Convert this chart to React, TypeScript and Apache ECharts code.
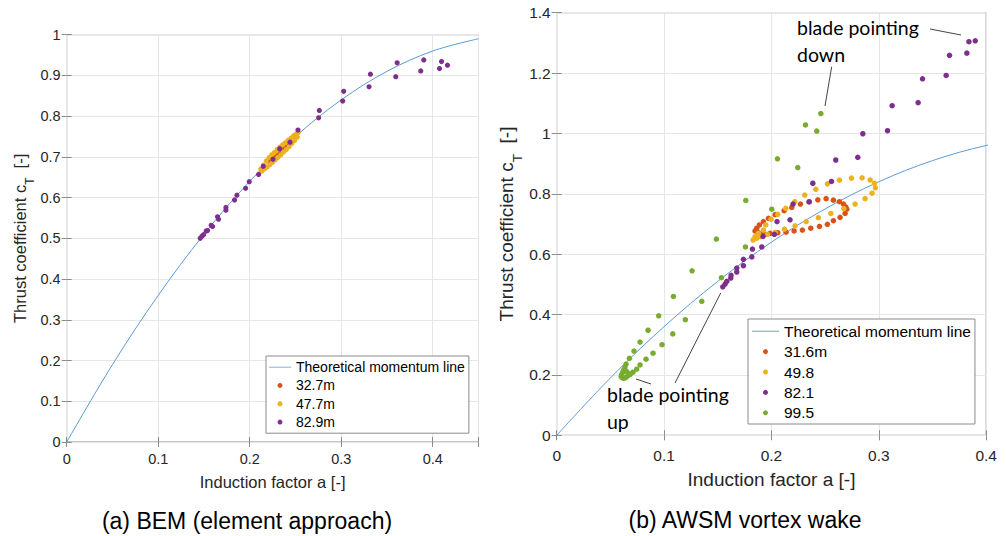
import React, { useEffect, useRef } from "react";
import * as echarts from "echarts";

// Theoretical momentum line
const momentumA = [0, 0.05, 0.1, 0.15, 0.2, 0.25, 0.3, 0.35, 0.4, 0.45];
const momentumCt = [0, 0.19, 0.36, 0.51, 0.64, 0.75, 0.84, 0.91, 0.96, 0.99];

// (a) BEM
const bem327A = [0.222, 0.226, 0.230, 0.234, 0.238, 0.242, 0.246, 0.248, 0.245, 0.241, 0.237, 0.233, 0.229, 0.225];
const bem327Ct = [0.690, 0.697, 0.704, 0.712, 0.722, 0.731, 0.740, 0.744, 0.735, 0.725, 0.716, 0.707, 0.699, 0.692];

const bem477A = [0.212, 0.215, 0.218, 0.221, 0.224, 0.227, 0.230, 0.233, 0.236, 0.239, 0.242, 0.245, 0.248, 0.251, 0.253,
  0.252, 0.249, 0.246, 0.243, 0.240, 0.237, 0.234, 0.231, 0.228, 0.225, 0.222, 0.219, 0.216, 0.213];
const bem477Ct = [0.670, 0.680, 0.690, 0.698, 0.705, 0.711, 0.718, 0.724, 0.730, 0.735, 0.741, 0.746, 0.752, 0.757, 0.760,
  0.748, 0.740, 0.733, 0.725, 0.718, 0.712, 0.705, 0.699, 0.693, 0.687, 0.681, 0.675, 0.670, 0.665];

const bem829A = [0.1459, 0.1477, 0.1495, 0.1524, 0.1539, 0.1579, 0.1594, 0.1648, 0.1659, 0.1740, 0.1740, 0.1834, 0.1860,
  0.1955, 0.1995, 0.2097, 0.2148, 0.2254, 0.2327, 0.2440, 0.2527, 0.2753, 0.2761, 0.3016, 0.3027, 0.3304, 0.3319,
  0.3596, 0.3611, 0.3869, 0.3902, 0.4074, 0.4096, 0.4161];
const bem829Ct = [0.500, 0.505, 0.509, 0.518, 0.519, 0.532, 0.529, 0.553, 0.547, 0.576, 0.569, 0.594, 0.606,
  0.623, 0.639, 0.657, 0.677, 0.694, 0.720, 0.736, 0.766, 0.796, 0.814, 0.837, 0.861, 0.872, 0.903,
  0.897, 0.931, 0.911, 0.938, 0.917, 0.934, 0.925];

// (b) AWSM vortex wake
const aw316A = [0.1847, 0.1863, 0.1888, 0.1925, 0.1972, 0.2034, 0.2118, 0.2189, 0.2270, 0.2353, 0.2432, 0.2509, 0.2577,
  0.2633, 0.2670, 0.2692, 0.2702, 0.2686, 0.2639, 0.2577, 0.2521, 0.2447, 0.2366, 0.2288, 0.2211, 0.2136, 0.2059,
  0.1987, 0.1925, 0.1878];
const aw316Ct = [0.677, 0.686, 0.697, 0.708, 0.719, 0.731, 0.744, 0.755, 0.766, 0.774, 0.780, 0.784, 0.779,
  0.774, 0.766, 0.757, 0.749, 0.735, 0.722, 0.711, 0.699, 0.692, 0.686, 0.680, 0.677, 0.673, 0.671,
  0.669, 0.669, 0.671];

const aw498A = [0.1829, 0.1847, 0.1878, 0.1925, 0.1947, 0.1996, 0.2059, 0.2133, 0.2217, 0.2310, 0.2413, 0.2521, 0.2633,
  0.2745, 0.2844, 0.2919, 0.2959, 0.2968, 0.2937, 0.2872, 0.2779, 0.2674, 0.2553, 0.2437, 0.2323, 0.2220, 0.2121,
  0.2034, 0.1962, 0.1903, 0.1863];
const aw498Ct = [0.647, 0.658, 0.669, 0.680, 0.697, 0.716, 0.732, 0.752, 0.774, 0.796, 0.815, 0.833, 0.845,
  0.852, 0.853, 0.846, 0.835, 0.820, 0.802, 0.784, 0.766, 0.751, 0.735, 0.721, 0.708, 0.694, 0.683,
  0.672, 0.666, 0.658, 0.653];

const aw821A = [0.1547, 0.1568, 0.1584, 0.1621, 0.1624, 0.1677, 0.1677, 0.1739, 0.1739, 0.1817, 0.1823, 0.1910, 0.1922,
  0.2027, 0.2052, 0.2173, 0.2201, 0.2350, 0.2385, 0.2559, 0.2599, 0.2804, 0.2851, 0.3081, 0.3124, 0.3366, 0.3407,
  0.3627, 0.3658, 0.3820, 0.3839, 0.3898];
const aw821Ct = [0.492, 0.501, 0.510, 0.521, 0.530, 0.541, 0.554, 0.562, 0.583, 0.591, 0.617, 0.624, 0.659,
  0.666, 0.708, 0.714, 0.766, 0.773, 0.835, 0.841, 0.912, 0.921, 0.999, 1.009, 1.092, 1.102, 1.181,
  1.192, 1.259, 1.266, 1.304, 1.307];

const aw995A = [0.0646, 0.0677, 0.0720, 0.0776, 0.0851, 0.0950, 0.1087, 0.1261, 0.1487, 0.1761, 0.2056, 0.2317, 0.2460,
  0.0745, 0.0776, 0.0832, 0.0897, 0.0981, 0.1081, 0.1198, 0.1351, 0.1534, 0.1758, 0.2003, 0.2245, 0.2422,
  0.0600, 0.0610, 0.0625, 0.0640, 0.0660, 0.0685, 0.0710, 0.0605, 0.0615, 0.0625, 0.0635, 0.0650, 0.0670];
const aw995Ct = [0.236, 0.255, 0.279, 0.309, 0.348, 0.396, 0.460, 0.545, 0.650, 0.778, 0.916, 1.028, 1.066,
  0.219, 0.233, 0.252, 0.272, 0.300, 0.336, 0.383, 0.444, 0.522, 0.624, 0.749, 0.887, 1.008,
  0.195, 0.191, 0.189, 0.191, 0.196, 0.202, 0.209, 0.201, 0.209, 0.217, 0.226, 0.212, 0.205];

const legendA = ["Theoretical momentum line", "32.7m", "47.7m", "82.9m"];
const legendB = ["Theoretical momentum line", "31.6m", "49.8", "82.1", "99.5"];

const zip = (xs: number[], ys: number[]) => xs.map((x, i) => [x, ys[i]]);

const FONT = "'Liberation Sans', Arial, Helvetica, sans-serif";
const AXIS_C = "#262626";
const BORDER_C = "#8a8a8a";
const GRID_C = "#e6e6e6";
const LINE_C = "#5b9bd5";
const RED = "#D95319";
const YEL = "#EDB120";
const PUR = "#7E2F8E";
const GRN = "#77AC30";
const LINE_ICON = "path://M0,0L40,0L40,1.4L0,1.4Z";

function fmt(v: number, max: number) {
  if (Math.abs(v - max) < 1e-9 && Math.abs((v * 10) - Math.round(v * 10)) > 1e-6) return "";
  return String(Math.round(v * 100) / 100);
}

export default function App() {
  const ref = useRef<HTMLDivElement>(null);
  useEffect(() => {
    if (!ref.current) return;
    const chart = echarts.init(ref.current, null, { renderer: "svg" });

    const mainX = (grid: number, max: number, fs: number, margin: number, name: string, gap: number, nfs: number) => ({
      type: "value", gridIndex: grid, min: 0, max, interval: 0.1, position: "bottom",
      name, nameLocation: "middle", nameGap: gap,
      nameTextStyle: { fontFamily: FONT, fontSize: nfs, color: AXIS_C },
      axisLine: { show: false },
      axisTick: { show: true, inside: true, length: 5, lineStyle: { color: BORDER_C } },
      axisLabel: { fontFamily: FONT, fontSize: fs, color: AXIS_C, margin, formatter: (v: number) => fmt(v, max) },
      splitLine: { show: true, lineStyle: { color: GRID_C, width: 1 } },
    });
    const mirrorX = (grid: number, max: number) => ({
      type: "value", gridIndex: grid, min: 0, max, interval: 0.1, position: "top",
      axisLine: { show: false },
      axisTick: { show: true, inside: true, length: 5, lineStyle: { color: BORDER_C } },
      axisLabel: { show: false }, splitLine: { show: false },
    });
    const mainY = (grid: number, max: number, interval: number, fs: number, margin: number, nfs: number, gap: number) => ({
      type: "value", gridIndex: grid, min: 0, max, interval, position: "left",
      name: "Thrust coefficient c{sub|T}  [-]", nameLocation: "middle", nameGap: gap, nameRotate: 90,
      nameTextStyle: {
        fontFamily: FONT, fontSize: nfs, color: AXIS_C,
        rich: { sub: { fontFamily: FONT, fontSize: nfs * 0.72, color: AXIS_C, verticalAlign: "bottom", padding: [0, 0, -nfs * 0.45, 0] } },
      },
      axisLine: { show: false },
      axisTick: { show: true, inside: true, length: 5, lineStyle: { color: BORDER_C } },
      axisLabel: { fontFamily: FONT, fontSize: fs, color: AXIS_C, margin, formatter: (v: number) => String(Math.round(v * 100) / 100) },
      splitLine: { show: true, lineStyle: { color: GRID_C, width: 1 } },
    });
    const mirrorY = (grid: number, max: number, interval: number) => ({
      type: "value", gridIndex: grid, min: 0, max, interval, position: "right",
      axisLine: { show: false },
      axisTick: { show: true, inside: true, length: 5, lineStyle: { color: BORDER_C } },
      axisLabel: { show: false }, splitLine: { show: false },
    });

    const lineSeries = (xi: number, yi: number) => ({
      name: "Theoretical momentum line", type: "line", xAxisIndex: xi, yAxisIndex: yi,
      data: zip(momentumA, momentumCt), smooth: 0.35, symbol: "none", showSymbol: false,
      lineStyle: { color: LINE_C, width: 1 }, itemStyle: { color: LINE_C }, clip: true, z: 2,
    });
    const scat = (name: string, xi: number, yi: number, xs: number[], ys: number[], color: string, size: number, z: number) => ({
      name, type: "scatter", xAxisIndex: xi, yAxisIndex: yi, data: zip(xs, ys),
      symbol: "circle", symbolSize: size, itemStyle: { color, opacity: 1 }, z,
    });

    const legendCommon = {
      orient: "vertical", itemGap: 0, selectedMode: false, backgroundColor: "#ffffff",
      borderColor: BORDER_C, borderWidth: 1, borderRadius: 0, itemHeight: 5,
    };

    const option: any = {
      animation: false,
      backgroundColor: "#ffffff",
      grid: [
        { left: 66.7, top: 34.7, width: 411.8, height: 407.3, show: true, borderColor: BORDER_C, borderWidth: 1, backgroundColor: "#ffffff", containLabel: false },
        { left: 556.7, top: 12.7, width: 429.5, height: 422.6, show: true, borderColor: BORDER_C, borderWidth: 1, backgroundColor: "#ffffff", containLabel: false },
      ],
      xAxis: [
        mainX(0, 0.45, 14.5, 9, "Induction factor a [-]", 31, 16.5),
        mirrorX(0, 0.45),
        mainX(1, 0.4, 15.5, 12, "Induction factor a [-]", 35, 19),
        mirrorX(1, 0.4),
      ],
      yAxis: [
        mainY(0, 1, 0.1, 14.5, 6, 16.5, 38),
        mirrorY(0, 1, 0.1),
        mainY(1, 1.4, 0.2, 15.5, 6, 19, 41),
        mirrorY(1, 1.4, 0.2),
      ],
      legend: [
        {
          ...legendCommon, left: 266, top: 356, itemWidth: 22, padding: [2, 4, 2, 3],
          textStyle: { fontFamily: FONT, fontSize: 14, color: "#000", lineHeight: 18.3 },
          data: [{ name: legendA[0], icon: LINE_ICON }, { name: legendA[1], icon: "circle" }, { name: legendA[2], icon: "circle" }, { name: legendA[3], icon: "circle" }],
        },
        {
          ...legendCommon, left: 748, top: 319, itemWidth: 27, padding: [2, 4, 1, 4],
          textStyle: { fontFamily: FONT, fontSize: 15.5, color: "#000", lineHeight: 20.4 },
          data: [{ name: legendB[0], icon: LINE_ICON }, { name: legendB[1], icon: "circle" }, { name: legendB[2], icon: "circle" }, { name: legendB[3], icon: "circle" }, { name: legendB[4], icon: "circle" }],
        },
      ],
      series: [
        lineSeries(0, 0),
        scat(legendA[1], 0, 0, bem327A, bem327Ct, RED, 5.2, 3),
        scat(legendA[2], 0, 0, bem477A, bem477Ct, YEL, 5.2, 4),
        scat(legendA[3], 0, 0, bem829A, bem829Ct, PUR, 5.2, 5),
        lineSeries(2, 2),
        scat(legendB[1], 2, 2, aw316A, aw316Ct, RED, 5.5, 3),
        scat(legendB[2], 2, 2, aw498A, aw498Ct, YEL, 5.5, 4),
        scat(legendB[3], 2, 2, aw821A, aw821Ct, PUR, 5.5, 5),
        scat(legendB[4], 2, 2, aw995A, aw995Ct, GRN, 5.5, 6),
      ],
      graphic: [
        { type: "text", x: 247, y: 521, z: 10, style: { text: "(a) BEM (element approach)", fontFamily: FONT, fontSize: 23, fill: "#000", textAlign: "center", textVerticalAlign: "middle" } },
        { type: "text", x: 745, y: 520, z: 10, style: { text: "(b) AWSM vortex wake", fontFamily: FONT, fontSize: 23, fill: "#000", textAlign: "center", textVerticalAlign: "middle" } },
        { type: "text", x: 797, y: 14, z: 10, style: { text: "blade pointing\ndown", fontFamily: "Lato, 'Open Sans', sans-serif", fontSize: 19.5, lineHeight: 27, fill: "#000", textAlign: "left", textVerticalAlign: "top" } },
        { type: "text", x: 607, y: 381, z: 10, style: { text: "blade pointing\nup", fontFamily: "Lato, 'Open Sans', sans-serif", fontSize: 19.5, lineHeight: 27, fill: "#000", textAlign: "left", textVerticalAlign: "top" } },
        { type: "line", z: 10, shape: { x1: 930, y1: 29, x2: 961, y2: 35 }, style: { stroke: "#444", lineWidth: 1 } },
        { type: "line", z: 10, shape: { x1: 831.7, y1: 66.7, x2: 825, y2: 106 }, style: { stroke: "#444", lineWidth: 1 } },
        { type: "line", z: 10, shape: { x1: 636, y1: 379, x2: 651, y2: 384 }, style: { stroke: "#444", lineWidth: 1 } },
        { type: "line", z: 10, shape: { x1: 675, y1: 383, x2: 720.7, y2: 293 }, style: { stroke: "#444", lineWidth: 1 } },
      ],
    };
    chart.setOption(option);
    return () => chart.dispose();
  }, []);
  return <div ref={ref} style={{ position: "absolute", left: 0, top: 0, width: 1006, height: 536 }} />;
}
